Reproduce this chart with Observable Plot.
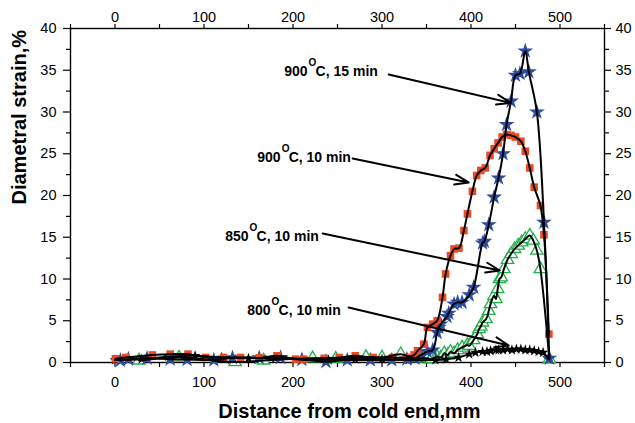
<!DOCTYPE html>
<html><head><meta charset="utf-8">
<script src="https://cdn.jsdelivr.net/npm/d3@7"></script>
<script src="https://cdn.jsdelivr.net/npm/@observablehq/plot@0.6"></script>
<style>body{margin:0;background:#fff}#chart{width:635px;height:423px}</style>
</head><body><div id="chart"></div>
<script>
// ---- data ----
const x900_15 = [6,15,36,62,81,111,132,162,186,210,237,261,287,311,328,337,344,351,357,362,364,366,373,375,381,385,390,398,403,413,415,420,426,431,436,440,445,450,455,461,465,474,482,488];
const y900_15 = [0.25,0.4,0.5,0.4,0.35,0.3,0.55,0.55,0.6,0.35,0.1,0.3,0.3,0.3,0.4,0.5,0.9,1.3,1.5,3.6,4.2,4.6,5.5,5.9,7.0,7.2,7.2,8.1,9.0,14.3,14.5,16.5,19.8,22.1,25.0,28.5,31.3,34.4,34.6,37.3,34.8,30.0,16.8,0.5];

const x900_10 = [0.5,12,42,62,82,102,122,141,162,182,203,212,235,252,270,290,312,327,336,340,347,351,357,362,368,371.5,377,381,386.5,392,396,401.6,406.4,411,416,421.4,426,430.4,435,440,445,450,456,461,466,471,478,482,487.5];
const y900_10 = [0.45,0.6,0.9,1.0,1.0,0.6,0.6,0.6,0.55,0.8,0.4,0.4,0.5,0.6,0.8,0.6,0.6,0.6,0.9,1.4,2.2,4.2,4.6,5.0,7.8,10.6,12.8,13.6,13.7,15.8,17.8,20.5,22.4,23.0,23.3,24.8,25.6,26.3,27.0,27.3,27.2,27.0,26.5,25.3,23.3,21.0,18.8,15.3,3.4];

const x850_10 = [27,72,135,167,222,248,282,300,321,338,351,355,362,366,370,374,377,381,385,390,396,398,403,407,409,411,413,417,420,422,426,428,430,432,434,437,441,445,449,453,457,461,466,470,474,478,488];
const y850_10 = [0.25,0.6,0.05,0.25,0.5,0.45,0.65,0.6,1.0,0.5,0.5,0.4,0.7,0.6,1.1,0.9,1.3,1.1,1.5,1.8,2.1,2.0,2.7,3.4,4.0,4.3,4.8,5.2,6.2,7.0,8.0,7.6,8.8,10.0,10.2,11.2,12.3,13.0,13.6,14.0,14.4,14.8,15.2,14.6,13.4,11.2,0.4];

const x800_10 = [0,30,60,90,120,150,180,210,240,270,300,330,360,372,386,398,405,413,418,422,428,431,436,441,446,451,456,461,466,471,476,481,487];
const y800_10 = [0.3,0.4,0.7,0.8,0.6,0.5,0.5,0.4,0.3,0.4,0.4,0.3,0.3,0.4,0.6,1.0,1.2,1.3,1.3,1.4,1.5,1.5,1.5,1.6,1.5,1.6,1.6,1.5,1.5,1.4,1.3,1.2,0.4];

const xTicks = d3.range(-50, 551, 50);
const yMajor = d3.range(0, 41, 5);
const yMinor = d3.range(2.5, 40, 5);

// annotations
const annTemp = ["900","900","850","800"];
const annRest = ["C, 15 min","C, 10 min","C, 10 min","C, 10 min"];
const annX = [216.4, 186.1, 150.1, 174.8];
const annY = [34.37, 24.07, 14.61, 5.63];
const arrX1 = [307.5, 267.0, 233.3, 262.5];
const arrY1 = [34.5, 24.43, 15.45, 6.59];
const arrX2 = [444.5, 397.4, 432.3, 442.4];
const arrY2 = [31.1, 21.56, 11.02, 2.04];

const toRows = (xs, ys) => xs.map((x, i) => ({x, y: ys[i]}));
const s15 = toRows(x900_15, y900_15);
const s10 = toRows(x900_10, y900_10);
const s850 = toRows(x850_10, y850_10);
const s800 = toRows(x800_10, y800_10);
const ann = annTemp.map((t, i) => ({t, r: annRest[i], x: annX[i], y: annY[i], x1: arrX1[i], y1: arrY1[i], x2: arrX2[i], y2: arrY2[i]}));

const font = "'Liberation Sans', Arial, sans-serif";
const fmtX = d => (d % 100 === 0 ? String(d) : "");

const chart = Plot.plot({
  width: 635, height: 423,
  marginLeft: 70, marginRight: 31, marginTop: 28, marginBottom: 61,
  x: {domain: [-50, 550]},
  y: {domain: [0, 40]},
  style: {fontFamily: font, fontSize: "14.5px", color: "black", background: "white"},
  marks: [
    Plot.axisX({anchor: "bottom", ticks: xTicks, tickFormat: fmtX, tickSize: 5, tickPadding: 9, label: null, strokeWidth: 1.2}),
    Plot.axisX({anchor: "top", ticks: xTicks, tickFormat: fmtX, tickSize: 5, tickPadding: 2, label: null, strokeWidth: 1.2}),
    Plot.axisY({anchor: "left", ticks: yMajor, tickSize: 7, tickPadding: 7, label: null, strokeWidth: 1.2}),
    Plot.axisY({anchor: "left", ticks: yMinor, tickSize: 4, tickFormat: () => "", label: null, strokeWidth: 1.2}),
    Plot.axisY({anchor: "right", ticks: yMajor, tickSize: 6, tickPadding: 5, label: null, strokeWidth: 1.2}),
    Plot.axisY({anchor: "right", ticks: yMinor, tickSize: 4, tickFormat: () => "", label: null, strokeWidth: 1.2}),
    Plot.frame({stroke: "black", strokeWidth: 1.4}),
    Plot.dot(s850, {x: "x", y: "y", symbol: "triangle", r: 4.6, stroke: "#22ae4a", fill: "white", strokeWidth: 1.3}),
    Plot.dot(s800, {x: "x", y: "y", symbol: "star", r: 3.4, fill: "black", stroke: "none"}),
    Plot.dot(s15, {x: "x", y: "y", symbol: "star", r: 5.0, fill: "#2d4b9f", stroke: "none"}),
    Plot.dot(s10, {x: "x", y: "y", symbol: "square", r: 4.3, fill: "#e94c25", stroke: "none"}),
    Plot.line(s850, {x: "x", y: "y", curve: "catmull-rom", stroke: "black", strokeWidth: 2}),
    Plot.line(s800, {x: "x", y: "y", curve: "catmull-rom", stroke: "black", strokeWidth: 2}),
    Plot.line(s15, {x: "x", y: "y", curve: "catmull-rom", stroke: "black", strokeWidth: 2}),
    Plot.line(s10, {x: "x", y: "y", curve: "catmull-rom", stroke: "black", strokeWidth: 2}),
    Plot.arrow(ann, {x1: "x1", y1: "y1", x2: "x2", y2: "y2", stroke: "black", strokeWidth: 2, headLength: 11, headAngle: 40}),
    Plot.text(ann, {x: "x", y: "y", text: "t", textAnchor: "end", lineAnchor: "bottom", fontSize: 14, fontWeight: "bold", fill: "black"}),
    Plot.text(ann, {x: "x", y: "y", text: () => "O", textAnchor: "start", lineAnchor: "bottom", dx: 1, dy: -10, fontSize: 10, fontWeight: "bold", fill: "black"}),
    Plot.text(ann, {x: "x", y: "y", text: "r", textAnchor: "start", lineAnchor: "bottom", dx: 8, fontSize: 14, fontWeight: "bold", fill: "black"}),
    Plot.text(["Distance from cold end,mm"], {frameAnchor: "bottom", dx: 12, dy: 49, lineAnchor: "middle", fontSize: 20, fontWeight: "bold", fill: "black"}),
    Plot.text(["Diametral strain,%"], {frameAnchor: "left", rotate: -90, dx: -51, dy: 9, lineAnchor: "middle", fontSize: 20, fontWeight: "bold", fill: "black"})
  ]
});
document.getElementById("chart").appendChild(chart);
</script></body></html>
